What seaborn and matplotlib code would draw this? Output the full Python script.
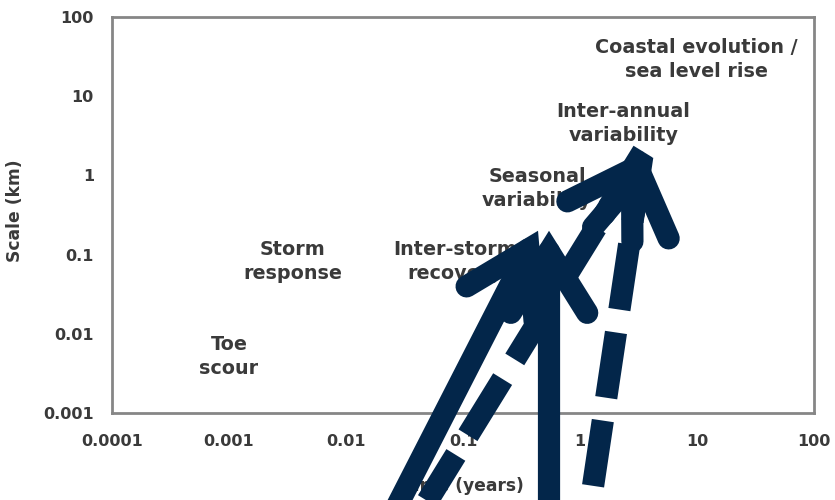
import matplotlib
matplotlib.use("Agg")
import numpy as np
import pandas as pd
import seaborn as sns
import matplotlib.pyplot as plt

# log axes: time (years) vs scale (km)
x_ticks = [0.0001, 0.001, 0.01, 0.1, 1, 10, 100]
x_tick_labels = ["0.0001", "0.001", "0.01", "0.1", "1", "10", "100"]
y_ticks = [0.001, 0.01, 0.1, 1, 10, 100]
y_tick_labels = ["0.001", "0.01", "0.1", "1", "10", "100"]

# process labels, at (time, scale)
processes = ["Toe\nscour", "Storm\nresponse", "Inter-storm\nrecovery",
             "Seasonal\nvariability", "Inter-annual\nvariability",
             "Coastal evolution /\nsea level rise"]
proc_time = [0.001, 0.0035, 0.085, 0.43, 2.35, 9.8]
proc_scale = [0.0052, 0.082, 0.082, 0.69, 4.5, 29]

# overlaid arrows, tail -> tip (tails run off the bottom of the figure)
arrow_tail_time = [0.0238, 0.543, 0.0396, 1.17]
arrow_tail_scale = [4.5e-5, 4.5e-5, 4.5e-5, 4.5e-5]
arrow_tip_time = [0.4375, 0.543, 3.45, 3.45]
arrow_tip_scale = [0.2, 0.2, 2.0, 2.0]
arrow_dashed = [False, False, True, True]
dash_offset = [0, 0, 0, 3.8]

navy = "#03264a"
text_col = "#3a3a3a"
spine_col = "#868686"

sns.set_style("white")
plt.rcParams["font.family"] = ["DejaVu Sans"]
plt.rcParams["font.weight"] = "bold"
plt.rcParams["axes.labelweight"] = "bold"

fig = plt.figure(figsize=(8.35, 5.0), dpi=100)
ax = fig.add_axes([0.134, 0.174, 0.841, 0.792])
ax.set_xscale("log")
ax.set_yscale("log")

for lab, t, s in zip(processes, proc_time, proc_scale):
    ax.text(t, s, lab, ha="center", va="center", fontsize=13.8,
            fontweight="bold", color=text_col, linespacing=1.32, zorder=2)

lw = 16
head = "->,head_length=4.4,head_width=2.75"
for tx, ty, hx, hy, dashed, off in zip(arrow_tail_time, arrow_tail_scale,
                                        arrow_tip_time, arrow_tip_scale,
                                        arrow_dashed, dash_offset):
    start = (tx, ty)
    if dashed:
        seg = pd.DataFrame({"t": [hx, tx], "s": [hy, ty]})
        sns.lineplot(data=seg, x="t", y="s", sort=False, ax=ax, color=navy,
                     linewidth=lw, linestyle=(off, (2.97, 1.04)),
                     dash_capstyle="butt", clip_on=False, zorder=5)
        # solid head fed by a short piece of the same line
        f = 0.17
        start = (hx * (tx / hx) ** f, hy * (ty / hy) ** f)
    ax.annotate("", xy=(hx, hy), xytext=start, annotation_clip=False,
                arrowprops=dict(arrowstyle=head, mutation_scale=10, lw=lw,
                                color=navy, shrinkA=0, shrinkB=0,
                                capstyle="round", joinstyle="miter"),
                zorder=6)

ax.set_xlim(0.0001, 100)
ax.set_ylim(0.001, 100)
ax.set_xticks(x_ticks, x_tick_labels)
ax.set_yticks(y_ticks, y_tick_labels)
ax.minorticks_off()
ax.tick_params(axis="both", which="major", direction="out", length=5,
               width=1.5, color=spine_col, labelsize=11.5,
               labelcolor=text_col)
ax.tick_params(axis="x", pad=10)
ax.tick_params(axis="y", pad=8)
for sp in ax.spines.values():
    sp.set_visible(True)
    sp.set_color(spine_col)
    sp.set_linewidth(2)

ax.set_xlabel("Time (years)", fontsize=12.3, color=text_col)
ax.set_ylabel("Scale (km)", fontsize=12.3, color=text_col)
ax.xaxis.set_label_coords(0.5, -0.162)
ax.yaxis.set_label_coords(-0.125, 0.51)

fig.savefig("out.png", dpi=100)
